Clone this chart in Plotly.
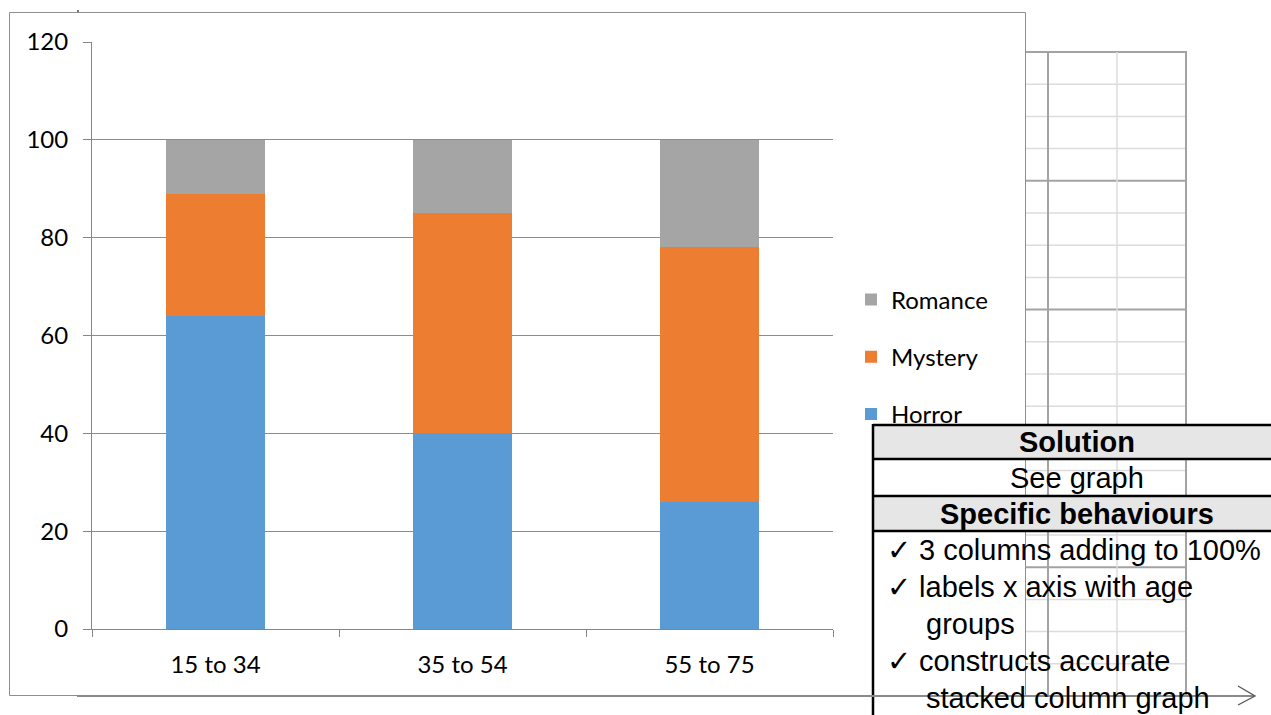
import plotly.graph_objects as go

W, H = 1271, 715

age_groups = ["15 to 34", "35 to 54", "55 to 75"]
horror = [64, 40, 26]
mystery = [25, 45, 52]
romance = [11, 15, 22]

series_names = ["Horror", "Mystery", "Romance"]
series_colors = ["#5B9BD5", "#ED7D31", "#A5A5A5"]
legend_ranks = [3, 2, 1]

table_headers = ["Solution", "Specific behaviours"]
table_solution = "See graph"
table_lines = [
    "\u2713 3 columns adding to 100%",
    "\u2713 labels x axis with age",
    "   groups",
    "\u2713 constructs accurate",
    "   stacked column graph",
]


def px(x):
    return x / W


def py(y):
    return 1 - y / H


fig = go.Figure()
for name, vals, col, rk in zip(series_names, [horror, mystery, romance], series_colors, legend_ranks):
    fig.add_bar(x=age_groups, y=vals, name=name, marker_color=col,
                marker_line_width=0, legendgroup=name, legendrank=rk, hoverinfo="skip")

shapes = []
# chart frame
shapes.append(dict(type="rect", xref="paper", yref="paper", x0=px(9.5), x1=px(1025.5),
                   y0=py(695.5), y1=py(12.5), line=dict(color="#8f8f8f", width=1),
                   fillcolor="rgba(0,0,0,0)", layer="below"))

# grid paper on the right
gx0, gx1, gy0, gy1 = 1026, 1187, 52, 696
for i in range(21):
    yy = gy0 + i * (gy1 - gy0) / 20
    thick = (i % 4 == 0)
    shapes.append(dict(type="line", xref="paper", yref="paper", x0=px(gx0), x1=px(gx1),
                       y0=py(yy), y1=py(yy),
                       line=dict(color="#a3a3a3" if thick else "#dcdcdc", width=2 if thick else 1.5)))
for xx, thick in [(1048, True), (1117, False), (1186, True)]:
    shapes.append(dict(type="line", xref="paper", yref="paper", x0=px(xx), x1=px(xx),
                       y0=py(gy0), y1=py(gy1),
                       line=dict(color="#a3a3a3" if thick else "#dcdcdc", width=2 if thick else 1.5)))

# table header fills
for (y0, y1) in [(425, 459), (496, 531)]:
    shapes.append(dict(type="rect", xref="paper", yref="paper", x0=px(873), x1=px(1282),
                       y0=py(y1), y1=py(y0), line=dict(width=0), fillcolor="#e6e6e6"))
# table lines
for yy in [425, 459, 496, 531]:
    shapes.append(dict(type="line", xref="paper", yref="paper", x0=px(873), x1=px(1282),
                       y0=py(yy), y1=py(yy), line=dict(color="#000000", width=2.5)))
shapes.append(dict(type="line", xref="paper", yref="paper", x0=px(873), x1=px(873),
                   y0=py(424), y1=py(715), line=dict(color="#000000", width=2.5)))

# bottom axis line of the grid paper with arrow
shapes.append(dict(type="line", xref="paper", yref="paper", x0=px(77), x1=px(1254),
                   y0=py(696), y1=py(696), line=dict(color="#8a8a8a", width=2)))
shapes.append(dict(type="path", xref="paper", yref="paper",
                   path=f"M {px(1238)},{py(686)} L {px(1255)},{py(696)} L {px(1238)},{py(705)}",
                   line=dict(color="#555555", width=1.3)))
shapes.append(dict(type="line", xref="paper", yref="paper", x0=px(78), x1=px(78),
                   y0=py(10), y1=py(12), line=dict(color="#444444", width=1.5)))

annotations = []
tfont = dict(family="Liberation Sans, Arial", size=29, color="#000000")
annotations.append(dict(xref="paper", yref="paper", x=px(1077), y=py(442), text=f"<b>{table_headers[0]}</b>",
                        showarrow=False, xanchor="center", yanchor="middle", font=tfont))
annotations.append(dict(xref="paper", yref="paper", x=px(1077), y=py(478), text=table_solution,
                        showarrow=False, xanchor="center", yanchor="middle", font=tfont))
annotations.append(dict(xref="paper", yref="paper", x=px(1077), y=py(514), text=f"<b>{table_headers[1]}</b>",
                        showarrow=False, xanchor="center", yanchor="middle", font=tfont))
line_y = [550, 587, 624, 661, 698]
for txt, yy in zip(table_lines, line_y):
    xx = 885
    t = txt
    if txt.startswith("   "):
        xx = 924
        t = txt.strip()
    annotations.append(dict(xref="paper", yref="paper", x=px(xx), y=py(yy), text=t,
                            showarrow=False, xanchor="left", yanchor="middle", font=tfont))

cfont = dict(family="Lato, Carlito, sans-serif", size=24, color="#000000")

fig.update_layout(
    width=W, height=H,
    margin=dict(l=0, r=0, t=0, b=0, pad=0),
    paper_bgcolor="white", plot_bgcolor="white",
    barmode="stack", bargap=0.6,
    showlegend=True,
    legend=dict(x=px(851), y=py(357), xanchor="left", yanchor="middle",
                traceorder="grouped", tracegroupgap=23,
                font=cfont, bgcolor="rgba(0,0,0,0)"),
    xaxis=dict(domain=[px(92), px(833)], type="category", tickson="boundaries",
               ticks="outside", ticklen=7, tickcolor="#868686", showline=True,
               linecolor="#868686", linewidth=1, showgrid=False, tickfont=cfont,
               ticklabelstandoff=14, fixedrange=True, automargin=False),
    yaxis=dict(domain=[py(629), py(42)], range=[0, 120], dtick=20, ticks="outside",
               ticklen=8, tickcolor="#868686", showline=True, linecolor="#868686",
               linewidth=1, gridcolor="#8c8c8c", gridwidth=1, zeroline=False,
               tickfont=cfont, ticklabelstandoff=10, fixedrange=True, automargin=False),
    shapes=shapes,
    annotations=annotations,
)

fig.write_html("out.html")
